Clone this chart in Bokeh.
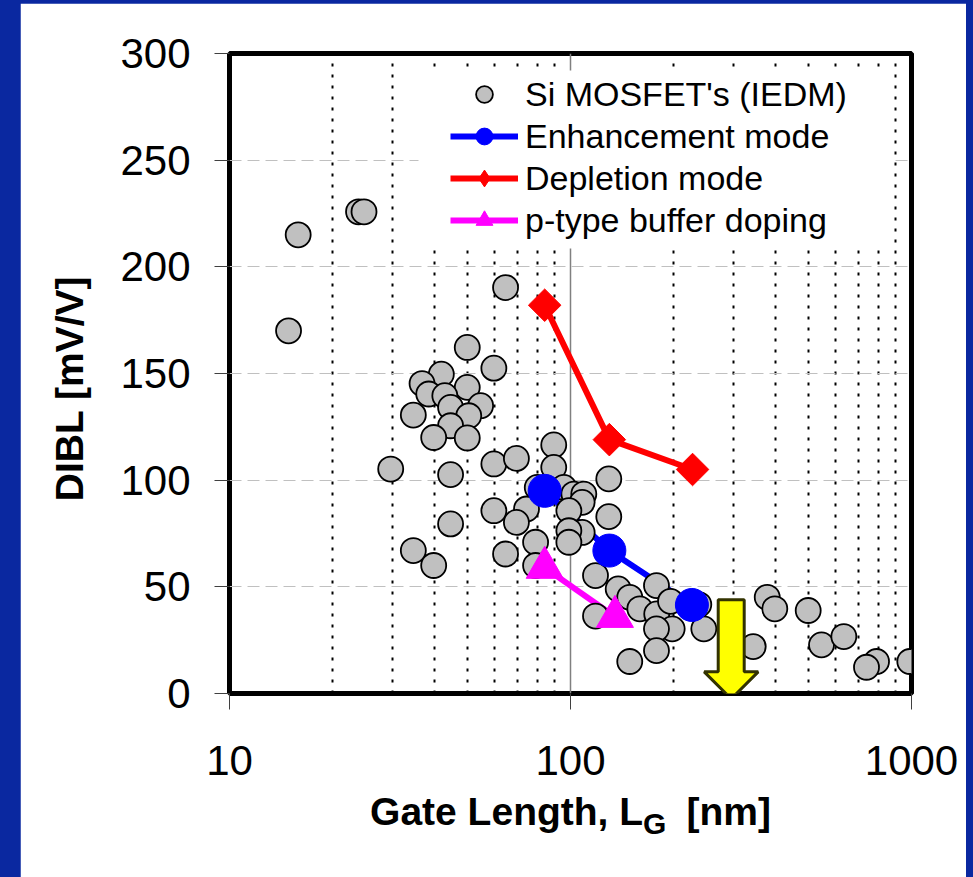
import math
from bokeh.plotting import figure
from bokeh.models import (Range1d, Legend, LegendItem, Label, FixedTicker, NumeralTickFormatter,
                          BoxAnnotation)
from bokeh.layouts import column
from bokeh.embed import file_html
from bokeh.resources import INLINE

# ---------------- data ----------------
si_lg = [14.9, 15.9, 23.9, 24.8, 64.5, 49.8, 59.6, 41.8, 36.7, 38.4, 49.8, 42.8, 54.5, 44.5,
         50.3, 44.5, 34.6, 39.7, 49.8, 29.7, 44.5, 59.6, 69.4, 89.3, 89.3, 79.9, 95.6, 102.3,
         109.4, 108.2, 98.9, 129.5, 129.5, 59.6, 44.5, 74.3, 69.4, 108.2, 98.9, 98.9, 79.0,
         64.5, 34.6, 39.7, 79.0, 118.4, 138.0, 118.4, 149.2, 159.7, 178.7, 179.0, 196.5,
         198.7, 178.7, 178.7, 149.2, 246.0, 237.8, 343.4, 377.5, 397.3, 497.8, 544.6, 633.2,
         789.7, 738.0, 988.6]
si_dibl = [170.0, 215.0, 225.8, 225.8, 190.3, 162.2, 152.5, 149.7, 145.3, 140.4, 143.5, 139.6,
           134.9, 134.1, 130.2, 125.5, 130.5, 120.0, 119.8, 105.2, 102.6, 107.6, 110.2, 116.5,
           106.0, 96.6, 96.6, 93.5, 93.5, 89.6, 85.7, 100.6, 82.9, 85.7, 79.5, 86.5, 80.2,
           75.5, 76.3, 70.9, 70.9, 65.4, 67.0, 60.0, 60.0, 55.3, 49.0, 36.3, 45.1, 39.7, 50.6,
           37.3, 43.2, 30.3, 30.3, 20.1, 15.0, 30.3, 41.7, 22.0, 45.1, 39.7, 38.9, 22.8, 26.7,
           15.0, 12.3, 15.0]

enh_lg = [84, 130, 227]
enh_dibl = [95, 67, 41.5]

dep_lg = [84, 130, 228]
dep_dibl = [182, 119, 105]

ptype_lg = [84, 135]
ptype_dibl = [59, 36]

arrow_lg = 296        # target gate length marked by the yellow arrow
arrow_top = 44
arrow_tip = -2.5

x_ticks = [10, 100, 1000]
x_minor = [m * 10 ** k for k in (1, 2) for m in range(2, 10)]
y_ticks = [0, 50, 100, 150, 200, 250, 300]

series_labels = ["Si MOSFET's (IEDM)", "Enhancement mode", "Depletion mode", "p-type buffer doping"]
x_title_main = "Gate Length, L"
x_title_sub = "G"
x_title_unit = "[nm]"
y_title = "DIBL [mV/V]"

# ---------------- styling ----------------
BLUE_BG = "#0a28a0"
FONT = "Liberation Sans"
FIG_W, FIG_H = 946, 874
MB_L, MB_R, MB_T, MB_B = 209, 55, 50, 184
FRAME_W = FIG_W - MB_L - MB_R
FRAME_H = FIG_H - MB_T - MB_B
X0, Y0 = 10, 0            # bottom-left corner of the frame in data units
y_per_px = 300.0 / FRAME_H
px_per_dec = FRAME_W / 2.0
TITLE_SIZE = 39
N_GAP = 4                 # non-breaking spaces reserved for the subscript

p = figure(width=FIG_W, height=FIG_H, x_axis_type="log",
           x_range=Range1d(10, 1000), y_range=Range1d(0, 300),
           output_backend="svg", toolbar_location=None,
           min_border_left=MB_L, min_border_right=MB_R,
           min_border_top=MB_T, min_border_bottom=MB_B,
           background_fill_color="white", border_fill_color="white")

p.outline_line_color = "black"
p.outline_line_width = 5

# axes
p.xaxis.ticker = FixedTicker(ticks=x_ticks, minor_ticks=x_minor)
p.xaxis.formatter = NumeralTickFormatter(format="0")
p.yaxis.ticker = FixedTicker(ticks=y_ticks)
for ax in (p.xaxis[0], p.yaxis[0]):
    ax.axis_line_color = None
    ax.major_tick_line_color = "#404040"
    ax.major_tick_line_width = 1
    ax.major_tick_in = 0
    ax.minor_tick_in = 0
    ax.minor_tick_out = 0
    ax.major_label_text_font = FONT
    ax.major_label_text_font_size = "42px"
    ax.major_label_text_color = "black"
p.xaxis.major_tick_out = 16
p.yaxis.major_tick_out = 15
p.xaxis.major_label_standoff = 36
p.yaxis.major_label_standoff = 24

# x title: main text + room for the subscript (non-breaking spaces) + unit
NB = "\u00a0"
p.xaxis.axis_label = x_title_main + NB * N_GAP + x_title_unit
p.xaxis.axis_label_text_font = FONT
p.xaxis.axis_label_text_font_style = "bold"
p.xaxis.axis_label_text_font_size = f"{TITLE_SIZE}px"
p.xaxis.axis_label_text_color = "black"
p.xaxis.axis_label_standoff = 12

# grids
p.xgrid.grid_line_color = "#808080"
p.xgrid.grid_line_width = 1.5
p.xgrid.minor_grid_line_color = "black"
p.xgrid.minor_grid_line_width = 2
p.xgrid.minor_grid_line_dash = "3 8"
p.ygrid.grid_line_color = "#c0c0c0"
p.ygrid.grid_line_width = 1
p.ygrid.grid_line_dash = "12 6"

# white area behind the legend that hides the grid (pixel geometry -> data units)
p.add_layout(BoxAnnotation(left=X0 * 10 ** (189 / px_per_dec), right=X0 * 10 ** (661 / px_per_dec),
                           bottom=Y0 + 445 * y_per_px, top=Y0 + 623 * y_per_px,
                           fill_color="white", fill_alpha=1, line_color=None, level="glyph"))

# ---------------- glyphs ----------------
l_enh = p.line(enh_lg, enh_dibl, line_color="#0000ff", line_width=6)
l_dep = p.line(dep_lg, dep_dibl, line_color="#ff0000", line_width=6)
l_pt = p.line(ptype_lg, ptype_dibl, line_color="#ff00ff", line_width=6)

r_si = p.scatter(si_lg, si_dibl, marker="circle", size=25, fill_color="#c0c0c0",
                 line_color="black", line_width=1.8)

m_enh = p.scatter(enh_lg, enh_dibl, marker="circle", size=33, fill_color="#0000ff",
                  line_color="#0000ff", line_width=1)
m_dep = p.scatter(dep_lg, dep_dibl, marker="square", angle=math.pi / 4, size=23,
                  fill_color="#ff0000", line_color="#ff0000", line_width=1)
m_pt = p.scatter(ptype_lg, ptype_dibl, marker="triangle", size=37, fill_color="#ff00ff",
                 line_color="#ff00ff", line_width=1)
# hidden diamond renderer used only as the legend swatch
m_dep_leg = p.scatter(dep_lg, dep_dibl, marker="diamond", size=23, fill_color="#ff0000",
                      line_color="#ff0000", line_width=1, visible=False)

# yellow block arrow (pixel geometry converted through the axis scales)
shaft_hw, head_hw, head_h = 13, 27, 27
def xs_off(px):
    return arrow_lg * 10 ** (px / px_per_dec)
head_base = arrow_tip + head_h * y_per_px
ax_x = [xs_off(-shaft_hw), xs_off(shaft_hw), xs_off(shaft_hw), xs_off(head_hw),
        arrow_lg, xs_off(-head_hw), xs_off(-shaft_hw)]
ax_y = [arrow_top, arrow_top, head_base, head_base, arrow_tip, head_base, head_base]
p.patch(ax_x, ax_y, fill_color="#ffff00", line_color="#333300", line_width=3)

# ---------------- legend ----------------
legend = Legend(items=[
    LegendItem(label=series_labels[0], renderers=[r_si]),
    LegendItem(label=series_labels[1], renderers=[l_enh, m_enh]),
    LegendItem(label=series_labels[2], renderers=[l_dep, m_dep_leg]),
    LegendItem(label=series_labels[3], renderers=[l_pt, m_pt]),
], location=(221, 452))
legend.click_policy = "none"
legend.border_line_color = None
legend.background_fill_color = "white"
legend.background_fill_alpha = 1
legend.glyph_width = 68
legend.glyph_height = 42
legend.spacing = 0
legend.padding = 10
legend.margin = 0
legend.label_standoff = 7
legend.label_text_font = FONT
legend.label_text_font_size = "34px"
legend.label_text_color = "black"
p.add_layout(legend)

# ---------------- subscript and y title (side-panel labels, not clipped) ----------------
main_w = 7.001 * TITLE_SIZE          # advance of "Gate Length, L" in Liberation Sans Bold
total_w = (7.001 + N_GAP * 0.278 + 2.166) * TITLE_SIZE
sub_x_off = FRAME_W / 2 - total_w / 2 + main_w
common = dict(text_font=FONT, text_font_style="bold", text_color="black",
              text_baseline="alphabetic")
p.add_layout(Label(x=X0, y=Y0 - 130 * y_per_px, x_offset=sub_x_off, text=x_title_sub,
                   text_font_size="30px", text_align="left", **common), "left")
p.add_layout(Label(x=X0, y=Y0 + 305 * y_per_px, x_offset=-160, text=y_title,
                   angle=math.pi / 2, text_font_size=f"{TITLE_SIZE}px", text_align="center",
                   **common), "left")

root = column(p, styles={"background-color": BLUE_BG, "padding-left": "20px",
                         "padding-top": "3px", "padding-right": "7px"})

open("out.html", "w").write(file_html(root, INLINE))
